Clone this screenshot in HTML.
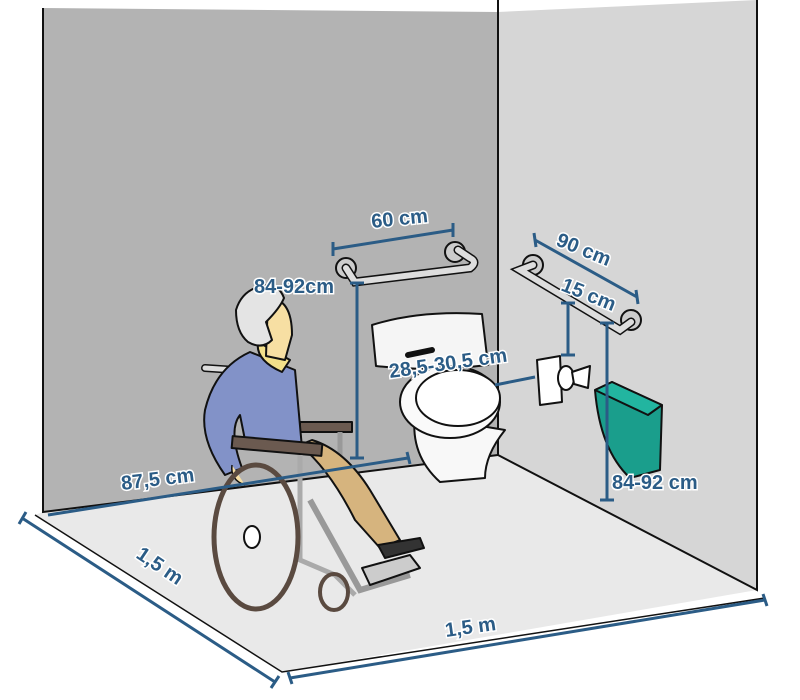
<!DOCTYPE html>
<html><head><meta charset="utf-8"><style>html,body{margin:0;padding:0;background:#fff}svg{display:block}
.t{font-family:"Liberation Sans",sans-serif;font-weight:bold;font-size:20px;fill:#2b5c86;stroke:#fff;stroke-width:3px;paint-order:stroke}
.d{stroke:#2b5c86;stroke-width:3;fill:none}
.o{stroke:#111;stroke-width:2;stroke-linejoin:round}
</style></head><body>
<svg width="800" height="700" viewBox="0 0 800 700" xmlns="http://www.w3.org/2000/svg">
<rect width="800" height="700" fill="#fff"/>
<polygon points="43,8 498,12 498,455 43,512" fill="#b3b3b3"/>
<polygon points="498,12 757,0 757,590 498,455" fill="#d6d6d6"/>
<polygon points="43,512 498,455 757,590 282,672 35,515" fill="#e9e9e9"/>
<polyline points="43,8 43,512 498,455 498,0" fill="none" stroke="#111" stroke-width="2"/>
<polyline points="498,455 757,590 757,0" fill="none" stroke="#111" stroke-width="2"/>
<polyline points="35,515 282,672 765,598" fill="none" stroke="#111" stroke-width="1.5"/>
<!-- left grab bar -->
<circle cx="346" cy="268" r="10" fill="#ccc" class="o" stroke-width="1.5"/>
<circle cx="455" cy="252" r="10" fill="#ccc" class="o" stroke-width="1.5"/>
<path d="M346,268 L355,282 L470,268 Q478,262 470,258 L458,250" fill="none" stroke="#111" stroke-width="9" stroke-linecap="round"/>
<path d="M346,268 L355,282 L470,268 Q478,262 470,258 L458,250" fill="none" stroke="#ddd" stroke-width="6" stroke-linecap="round"/>
<!-- right grab bar -->
<circle cx="533" cy="265" r="10" fill="#ccc" class="o" stroke-width="1.5"/>
<circle cx="631" cy="320" r="10" fill="#ccc" class="o" stroke-width="1.5"/>
<path d="M533,265 L520,270 L620,330 L631,322" fill="none" stroke="#111" stroke-width="9" stroke-linecap="round"/>
<path d="M533,265 L520,270 L620,330 L631,322" fill="none" stroke="#ddd" stroke-width="6" stroke-linecap="round"/>
<!-- toilet -->
<path d="M372,325 Q420,310 482,314 L488,365 Q430,372 376,366 Z" fill="#f5f5f5" class="o"/>
<path d="M408,355 L432,350" stroke="#111" stroke-width="6" stroke-linecap="round"/>
<path d="M415,415 Q410,455 440,482 L485,478 Q485,455 505,430 Z" fill="#f8f8f8" class="o"/>
<ellipse cx="450" cy="402" rx="50" ry="36" fill="#fafafa" class="o"/>
<ellipse cx="458" cy="398" rx="42" ry="28" fill="#fff" class="o" stroke-width="1.5"/>
<!-- paper holder -->
<path d="M537,360 L560,356 L562,402 L540,405 Z" fill="#fff" class="o"/>
<ellipse cx="566" cy="378" rx="8" ry="12" fill="#fff" class="o"/>
<path d="M572,372 L590,366 L588,388 L574,384 Z" fill="#fff" class="o"/>
<!-- bin -->
<path d="M595,390 L612,382 L662,405 L660,470 L630,478 Q600,450 595,390 Z" fill="#1a9e8c" class="o"/>
<path d="M595,390 L612,382 L662,405 L648,415 Z" fill="#22b5a0" class="o"/>
<!-- wheelchair back -->
<path d="M205,368 L235,370" stroke="#111" stroke-width="8" stroke-linecap="round"/>
<path d="M205,368 L235,370" stroke="#ddd" stroke-width="5" stroke-linecap="round"/>
<rect x="300" y="422" width="52" height="10" fill="#6b5a50" class="o"/>
<path d="M340,432 L340,470" stroke="#999" stroke-width="5"/>
<!-- person -->
<path d="M250,352 Q215,368 205,410 Q200,440 225,475 L242,468 Q228,430 240,415 L245,440 L302,448 L295,370 Z" fill="#8292c8" class="o"/>
<path d="M300,445 Q330,470 355,520 L380,548 L400,540 L370,490 Q345,450 312,440 Z" fill="#d6b47e" class="o"/>
<path d="M378,545 L420,538 L424,548 L385,558 Z" fill="#333" class="o"/>
<path d="M258,342 Q255,360 282,372 L290,360 Z" fill="#f3e08a" class="o"/>
<path d="M268,298 Q292,298 292,335 L285,360 L266,356 Z" fill="#f7dfa3" class="o"/>
<path d="M262,286 Q242,290 236,310 Q236,332 248,342 Q262,350 272,340 L266,322 Q280,308 284,298 Q278,282 262,286 Z" fill="#e4e4e4" class="o"/>
<rect x="232" y="440" width="90" height="12" fill="#6b5a50" class="o" transform="rotate(5 277 446)"/>
<path d="M232,465 Q230,480 245,485" stroke="#111" stroke-width="1.5" fill="#f7dfa3"/>
<!-- wheelchair -->
<path d="M300,455 L300,560 L335,575 L355,595" stroke="#aaa" stroke-width="5" fill="none"/>
<path d="M310,500 L360,590 L410,575" stroke="#999" stroke-width="6" fill="none"/>
<ellipse cx="256" cy="537" rx="42" ry="72" fill="none" stroke="#5a4a40" stroke-width="5"/>
<ellipse cx="252" cy="537" rx="8" ry="11" fill="#fff" class="o" stroke-width="1.5"/>
<ellipse cx="334" cy="592" rx="14" ry="18" fill="none" stroke="#5a4a40" stroke-width="4"/>
<path d="M362,568 L410,555 L420,568 L370,585 Z" fill="#ccc" class="o" stroke-width="1.5"/>
<!-- dimensions -->
<g class="d">
<path d="M333,249 L453,230 M333,242 L333,256 M453,223 L453,237"/>
<path d="M357,283 L357,458 M350,283 L364,283 M350,458 L364,458"/>
<path d="M48,515 L408,458 M407,452 L410,464"/>
<path d="M495,385 L535,377"/>
<path d="M535,240 L637,297 M534,233 L536,247 M636,290 L638,304"/>
<path d="M568,303 L568,355 M561,303 L575,303 M561,355 L575,355"/>
<path d="M607,323 L607,500 M600,323 L614,323 M600,500 L614,500"/>
<path d="M22,518 L275,682 M19,524 L26,512 M271,688 L279,676"/>
<path d="M290,678 L765,600 M288,672 L292,684 M763,594 L767,606"/>
</g>
<text class="t" transform="translate(372,228) rotate(-6)">60 cm</text>
<text class="t" transform="translate(555,245) rotate(22)">90 cm</text>
<text class="t" transform="translate(560,290) rotate(22)">15 cm</text>
<text class="t" x="254" y="293">84-92cm</text>
<text class="t" transform="translate(390,378) rotate(-8)">28,5-30,5 cm</text>
<text class="t" transform="translate(122,490) rotate(-7)">87,5 cm</text>
<text class="t" x="612" y="489">84-92 cm</text>
<text class="t" transform="translate(135,557) rotate(34)">1,5 m</text>
<text class="t" transform="translate(446,637) rotate(-8)">1,5 m</text>
</svg>
</body></html>
